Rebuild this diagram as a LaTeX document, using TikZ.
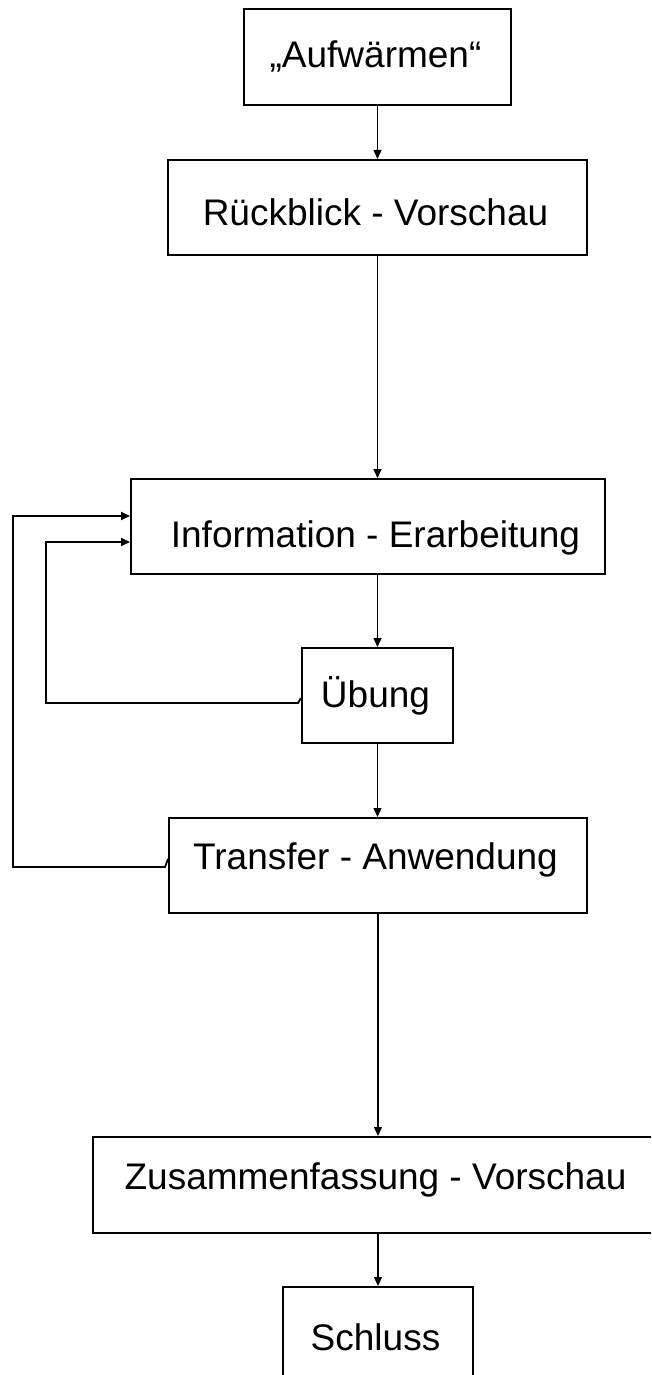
\documentclass[tikz,border=0pt]{standalone}
\usepackage{fontspec}
\setmainfont{Liberation Sans}
\usetikzlibrary{arrows.meta}
\begin{document}
\begin{tikzpicture}[x=1pt,y=-1pt,
  box/.style={draw, line width=2pt, rectangle, inner sep=0pt, minimum height=95pt},
  lbl/.style={anchor=base, inner sep=0pt, font=\fontsize{37}{44}\selectfont},
  conn/.style={line width=1.3pt, -{Triangle[length=9pt,width=8pt]}},
  fb/.style={line width=1.8pt, -{Triangle[length=9pt,width=8pt]}}]
\clip (0,0) rectangle (651,1375);
\fill[white] (0,0) rectangle (651,1375);
% boxes
\node[box, minimum width=267pt, minimum height=96pt] (A) at (377.5,57) {};
\node[box, minimum width=419pt] (R) at (377.5,207.5) {};
\node[box, minimum width=474pt] (I) at (368,526.5) {};
\node[box, minimum width=151pt] (U) at (377.5,695.5) {};
\node[box, minimum width=418pt] (T) at (378,865.5) {};
\node[box, minimum width=570pt, minimum height=96pt] (Z) at (378,1185) {};
\node[box, minimum width=190pt, minimum height=96pt] (S) at (378,1335) {};
% texts
\node[lbl] (At) at (375.5,68) {„Aufwärmen“};
\node[lbl] (Rt) at (375.5,225) {Rückblick - Vorschau};
\node[lbl] (It) at (375.5,547) {Information - Erarbeitung};
\node[lbl] (Ut) at (375.5,707) {Übung};
\node[lbl] (Tt) at (375.5,869) {Transfer - Anwendung};
\node[lbl] (Zt) at (375.5,1189) {Zusammenfassung - Vorschau};
\node[lbl] (St) at (375.5,1350) {Schluss};
% main flow
\draw[conn] (A.south) -- (R.north);
\draw[conn] (R.south) -- (R.south |- I.north);
\draw[conn] (R.south |- I.south) -- (U.north);
\draw[conn] (U.south) -- (U.south |- T.north);
\draw[conn] (T.south) -- (Z.north);
\draw[conn] (Z.south) -- (S.north);
% feedback loops
\coordinate (fbiA) at (46,703);
\coordinate (fbiB) at (46,542);
\coordinate (fboA) at (13,867);
\coordinate (fboB) at (13,516);
\draw[fb] ([yshift=-2.5pt]U.west) -- ++(-3,5) -- (fbiA) -- (fbiB) -- (I.west |- fbiB);
\draw[fb] ([yshift=6.5pt]T.west) -- ++(-3,8) -- (fboA) -- (fboB) -- (I.west |- fboB);
\end{tikzpicture}
\end{document}
